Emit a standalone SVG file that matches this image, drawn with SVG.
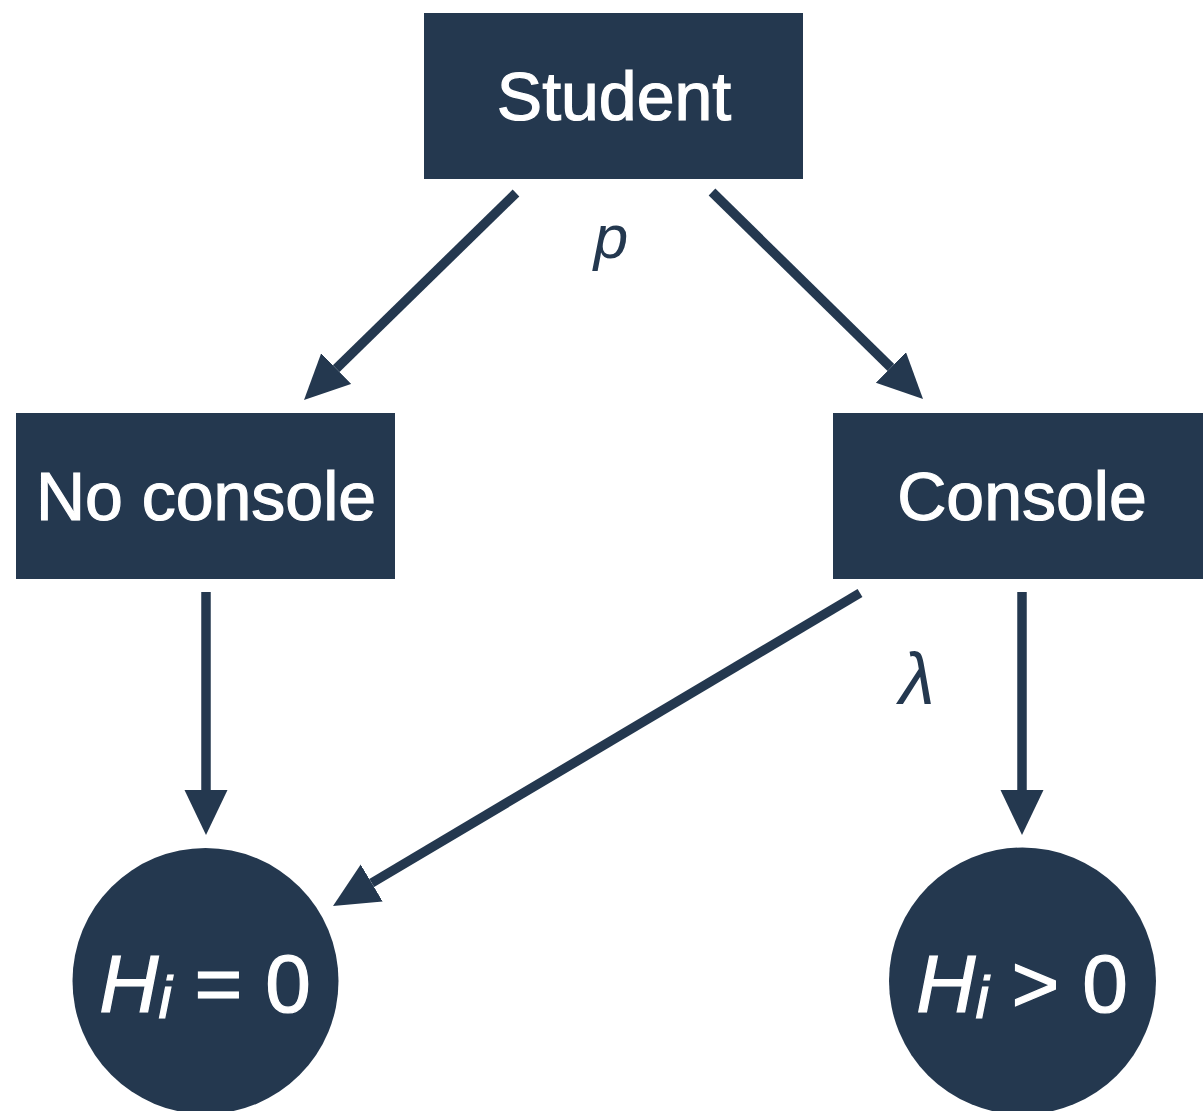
<svg xmlns="http://www.w3.org/2000/svg" width="1203" height="1111" viewBox="0 0 1203 1111">
<style>
.box{fill:#24384f}
.lbl{fill:#fff;stroke:#fff;stroke-width:1.2;font-family:"Liberation Sans",Arial,sans-serif;font-size:68px;text-anchor:middle}
.math{fill:#fff;stroke:#fff;stroke-width:1.2;font-family:"Liberation Sans",Arial,sans-serif;font-size:82px;text-anchor:middle}
.edge{stroke:#24384f;stroke-width:9.5;fill:none}
.elbl{fill:#24384f;font-family:"Liberation Sans",Arial,sans-serif;font-style:italic;font-size:62px;text-anchor:middle}
</style>
<defs>
<marker id="ah" markerUnits="userSpaceOnUse" markerWidth="46" markerHeight="44" refX="0" refY="21.5" orient="auto" viewBox="0 0 46 44">
<path d="M0,0 L45,21.5 L0,43 z" fill="#24384f"/>
</marker>
</defs>
<rect width="1203" height="1111" fill="#fff"/>
<g id="connectors">
<line class="edge" x1="516" y1="193" x2="336.2" y2="368.6" marker-end="url(#ah)"/>
<line class="edge" x1="712" y1="192" x2="890.9" y2="367.5" marker-end="url(#ah)"/>
<line class="edge" x1="206" y1="592" x2="206" y2="790" marker-end="url(#ah)"/>
<line class="edge" x1="1022" y1="592" x2="1022" y2="790" marker-end="url(#ah)"/>
<line class="edge" x1="860" y1="593" x2="371.7" y2="883" marker-end="url(#ah)"/>
<text class="elbl" x="611" y="258">p</text>
<text class="elbl" x="917" y="704" style="font-size:72px">λ</text>
</g>
<g id="student">
<rect class="box" x="424" y="13" width="379" height="166"/>
<text class="lbl" x="614" y="120">Student</text>
</g>
<g id="no-console">
<rect class="box" x="16" y="413" width="379" height="166"/>
<text class="lbl" x="206" y="520">No console</text>
</g>
<g id="console">
<rect class="box" x="833" y="413" width="379" height="166"/>
<text class="lbl" x="1022" y="520">Console</text>
</g>
<g id="h-zero">
<circle class="box" cx="205.5" cy="981" r="133"/>
<text class="math" x="205" y="1012"><tspan font-style="italic">H</tspan><tspan font-style="italic" style="font-size:60px" dy="6">i</tspan><tspan dy="-6"> = 0</tspan></text>
</g>
<g id="h-positive">
<circle class="box" cx="1022.5" cy="981" r="133.5"/>
<text class="math" x="1022" y="1012"><tspan font-style="italic">H</tspan><tspan font-style="italic" style="font-size:60px" dy="6">i</tspan><tspan dy="-6"> &gt; 0</tspan></text>
</g>
</svg>
